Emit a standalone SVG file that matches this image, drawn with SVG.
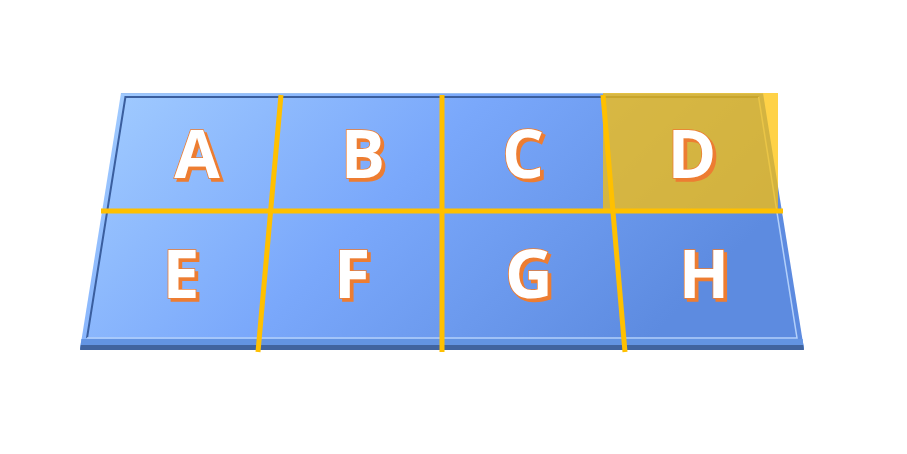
<svg xmlns="http://www.w3.org/2000/svg" width="907" height="454" viewBox="0 0 907 454">
  <defs>
    <linearGradient id="slab" x1="0" y1="0" x2="1" y2="0.35">
      <stop offset="0" stop-color="#a3cdff"/>
      <stop offset="0.5" stop-color="#7aa8fb"/>
      <stop offset="1" stop-color="#5d8be0"/>
    </linearGradient>
    <filter id="orangeShadow" x="-20%" y="-20%" width="150%" height="150%">
      <feFlood flood-color="#ed7d31" result="c"/>
      <feComposite in="c" in2="SourceAlpha" operator="in" result="s"/>
      <feOffset in="s" dx="2.5" dy="2.5" result="o"/>
      <feMerge>
        <feMergeNode in="o"/>
        <feMergeNode in="SourceGraphic"/>
      </feMerge>
    </filter>
    <style>
      .lbl { font-family: "Open Sans", "Liberation Sans", sans-serif; font-weight: 700; font-size: 66px; text-anchor: middle; fill: #ffffff; stroke: #ed7d31; stroke-width: 1.6; paint-order: stroke; filter: url(#orangeShadow); }
      .grid line { stroke: #ffc000; stroke-width: 5; stroke-linecap: butt; }
    </style>
  </defs>
  <rect width="907" height="454" fill="#ffffff"/>

  <g id="slab-base">
    <polygon points="121,93 763,93 804,349 80,349" fill="url(#slab)"/>
    <polygon points="81.4,339 802.6,339 804,349 80,349" fill="#6394e2"/>
    <polygon points="80.8,345 803.2,345 804,350 80,350" fill="#41649f"/>
    <polyline points="87,338 125.4,97 758.6,97" fill="none" stroke="#3a5e9e" stroke-width="2"/>
    <polyline points="87,338 797,338 758.6,97" fill="none" stroke="#b3d0fa" stroke-width="1.5"/>
    <line x1="121" y1="93.5" x2="763" y2="93.5" stroke="#9cc2f5" stroke-width="1"/>
  </g>

  <g id="highlight-D">
    <rect x="603" y="93" width="175" height="118" fill="#ffc000" fill-opacity="0.72"/>
  </g>

  <g id="connectors" class="grid">
    <line x1="101" y1="211" x2="783" y2="211"/>
    <line x1="281" y1="95" x2="258" y2="352"/>
    <line x1="442" y1="95" x2="442" y2="352"/>
    <line x1="603" y1="95" x2="625" y2="352"/>
  </g>

  <g id="cell-A"><text class="lbl" x="197" y="178">A</text></g>
  <g id="cell-B"><text class="lbl" x="363" y="178">B</text></g>
  <g id="cell-C"><text class="lbl" x="523" y="178">C</text></g>
  <g id="cell-D"><text class="lbl" x="692" y="178">D</text></g>
  <g id="cell-E"><text class="lbl" x="181" y="298">E</text></g>
  <g id="cell-F"><text class="lbl" x="352" y="298">F</text></g>
  <g id="cell-G"><text class="lbl" x="529" y="298">G</text></g>
  <g id="cell-H"><text class="lbl" x="704" y="298">H</text></g>
</svg>
